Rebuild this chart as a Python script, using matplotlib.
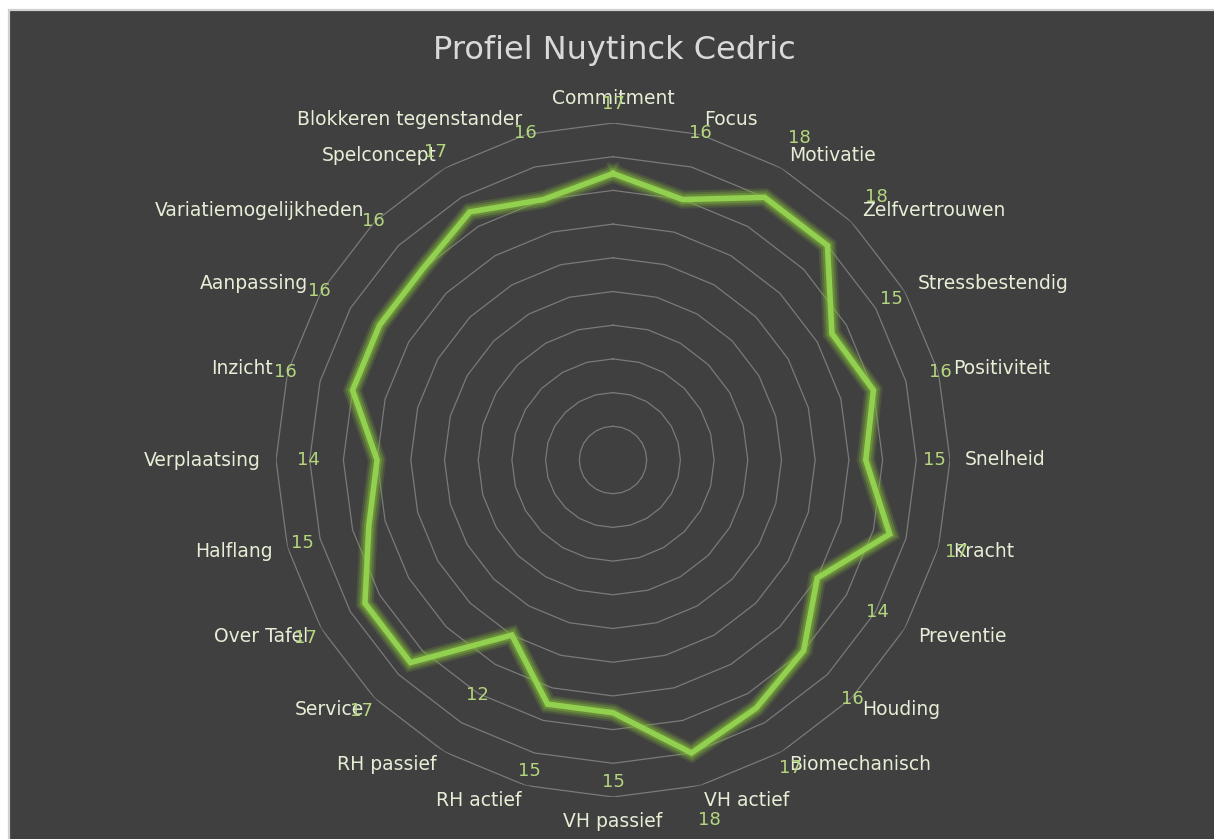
#!/usr/bin/env python3
import matplotlib
matplotlib.use('Agg')
import matplotlib.pyplot as plt
from matplotlib.patches import Rectangle
import numpy as np

TITLE = 'Profiel Nuytinck Cedric'
CATEGORIES = ['Commitment', 'Focus', 'Motivatie', 'Zelfvertrouwen', 'Stressbestendig', 'Positiviteit',
              'Snelheid', 'Kracht', 'Preventie', 'Houding', 'Biomechanisch', 'VH actief', 'VH passief',
              'RH actief', 'RH passief', 'Service', 'Over Tafel', 'Halflang', 'Verplaatsing', 'Inzicht',
              'Aanpassing', 'Variatiemogelijkheden', 'Spelconcept', 'Blokkeren tegenstander']
SCORES = [17, 16, 18, 18, 15, 16, 15, 17, 14, 16, 17, 18, 15, 15, 12, 17, 17, 15, 14, 16, 16, 16, 17, 16]
R_MAX = 20
R_STEP = 2

BG = '#404040'
GRID = '#7a7a7a'
LINE = '#92d050'
GLOW = '#7fb23a'
CAT_COLOR = '#e6eed6'
VAL_COLOR = '#b4d67f'
TITLE_COLOR = '#d9d9d9'
FONT = ['DejaVu Sans']

W, H = 1214, 839


def main():
    plt.rcParams['font.family'] = FONT
    fig = plt.figure(figsize=(W / 100, H / 100), dpi=100)
    fig.patch.set_facecolor('white')
    fig.add_artist(Rectangle((9 / W, -0.01), 1.0, 1.01 - 10 / H, transform=fig.transFigure,
                             facecolor=BG, edgecolor='#d0d0d0', linewidth=1.6, zorder=-10))

    cx, cy, rad = 613, 460, 337
    ax = fig.add_axes([(cx - rad) / W, (H - cy - rad) / H, 2 * rad / W, 2 * rad / H], projection='polar')
    ax.set_facecolor('none')
    ax.set_zorder(1)
    ax.set_theta_zero_location('N')
    ax.set_theta_direction(-1)
    ax.set_ylim(0, R_MAX)
    ax.grid(False)
    ax.spines['polar'].set_visible(False)
    ax.set_xticks([])
    ax.set_yticks([])

    n = len(CATEGORIES)
    theta = np.arange(n) * 2 * np.pi / n
    theta_c = np.append(theta, theta[0])

    # polygon gridlines, one ring every 2 points
    for r in np.arange(R_STEP, R_MAX + 0.1, R_STEP):
        ax.plot(theta_c, np.full(n + 1, r), color=GRID, linewidth=0.9, zorder=1)

    vals = np.append(SCORES, SCORES[0])
    for lw, a in [(13, 0.18), (10, 0.3), (7, 0.45)]:
        ax.plot(theta_c, vals, color=GLOW, linewidth=lw, alpha=a, solid_joinstyle='miter', zorder=2)
    ax.plot(theta_c, vals, color=LINE, linewidth=4, solid_joinstyle='miter', zorder=3)

    for t, name, v in zip(theta, CATEGORIES, SCORES):
        deg = np.degrees(t) % 360
        if np.isclose(deg, 0):
            ha, va = 'center', 'bottom'
        elif np.isclose(deg, 180):
            ha, va = 'center', 'top'
        elif deg < 180:
            ha, va = 'left', 'center'
        else:
            ha, va = 'right', 'center'
        ax.text(t, 20.9, name, ha=ha, va=va, color=CAT_COLOR, fontsize=13.5, clip_on=False, zorder=4)
        ax.text(t, v + 4.1, str(v), ha='center', va='center', color=VAL_COLOR, fontsize=13,
                clip_on=False, zorder=5)

    fig.text(614 / W, 1 - 51 / H, TITLE, ha='center', va='center', color=TITLE_COLOR, fontsize=23)

    fig.savefig('out.png', dpi=100, facecolor=fig.get_facecolor())
    plt.close(fig)


if __name__ == '__main__':
    main()
